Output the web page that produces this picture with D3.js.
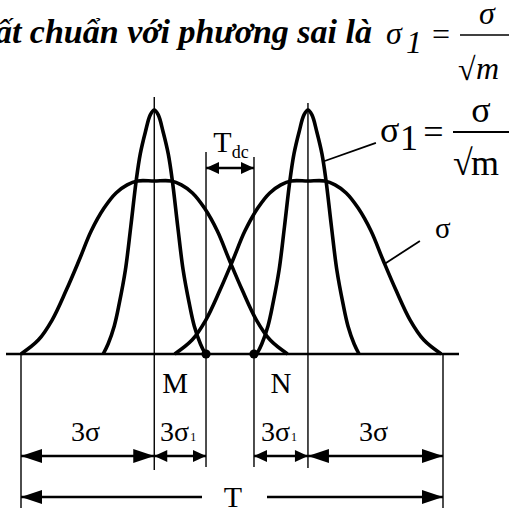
<!DOCTYPE html>
<html><head><meta charset="utf-8">
<script src="https://cdn.jsdelivr.net/npm/d3@7"></script>
<style>html,body{margin:0;padding:0;background:#fff;overflow:hidden}</style>
</head><body>
<script>
// ---------------- data ----------------
// Profiles of the two distributions:
// offset from the mean (in σ units) and relative height (peak of narrow curve = 1)
const wideOffsets   = [0, 0.38, 0.61, 0.86, 1.13, 1.42, 1.69, 1.98, 2.30, 2.61, 3.0];
const wideHeights   = [0.709, 0.709, 0.693, 0.660, 0.598, 0.504, 0.385, 0.262, 0.139, 0.057, 0];
const narrowOffsets = [0, 0.09, 0.20, 0.315, 0.405, 0.53, 0.65, 0.79, 0.90, 1.04, 1.15];
const narrowHeights = [1, 0.98, 0.91, 0.82, 0.713, 0.52, 0.344, 0.205, 0.115, 0.041, 0];
const means = [0, 3.46];                 // centres of the two setups
const pointX = [1.165, 2.245];           // M and N
const pointLabels = ["M", "N"];
const spanStart = [-3, 0, 2.245, 3.46];
const spanEnd   = [0, 1.165, 3.46, 6.5];
const spanMain  = ["3σ", "3σ", "3σ", "3σ"];
const spanSub   = ["", "1", "1", ""];
const totalLabel = "T";
const gapLabel = "T", gapSub = "dc";
const titleText = "ất chuẩn với phương sai là";

// ---------------- layout ----------------
const W = 509, H = 508;
const SERIF = "'Liberation Serif','Times New Roman',serif";
const svg = d3.select("body").append("svg").attr("width", W).attr("height", H)
  .attr("font-family", SERIF);
svg.append("rect").attr("width", W).attr("height", H).attr("fill", "#fff");

const x = d3.scaleLinear().domain([-3, 6.5]).range([21, 443]);
const y = d3.scaleLinear().domain([0, 1]).range([354, 110]);
const base = y(0);

function profile(mean, offs, hs) {
  const pts = [];
  for (let i = offs.length - 1; i > 0; i--) pts.push([mean - offs[i], hs[i]]);
  for (let i = 0; i < offs.length; i++) pts.push([mean + offs[i], hs[i]]);
  return pts;
}
const line = d3.line().x(d => x(d[0])).y(d => y(d[1])).curve(d3.curveCatmullRom.alpha(0.5));

// guide lines
const guides = [
  {v: -3, top: base, bot: 508},
  {v: means[0], top: 97, bot: 470},
  {v: pointX[0], top: 152, bot: 467},
  {v: pointX[1], top: 157, bot: 467},
  {v: means[1], top: 103, bot: 468},
  {v: 6.5, top: base, bot: 508}
];
svg.append("g").selectAll("line").data(guides).join("line")
  .attr("x1", d => x(d.v)).attr("x2", d => x(d.v))
  .attr("y1", d => d.top).attr("y2", d => d.bot)
  .attr("stroke", "#000").attr("stroke-width", 1.4);

// base line
svg.append("line").attr("x1", 6).attr("x2", 459).attr("y1", base).attr("y2", base)
  .attr("stroke", "#000").attr("stroke-width", 2.6);

// curves
const curves = [];
means.forEach(m => {
  curves.push(profile(m, wideOffsets, wideHeights));
  curves.push(profile(m, narrowOffsets, narrowHeights));
});
svg.append("g").selectAll("path").data(curves).join("path")
  .attr("d", line).attr("fill", "none").attr("stroke", "#000")
  .attr("stroke-width", 3.6).attr("stroke-linejoin", "miter");

// points M, N
svg.append("g").selectAll("circle").data(pointX).join("circle")
  .attr("cx", d => x(d)).attr("cy", base).attr("r", 4.6).attr("fill", "#000");

function head(g, tip, yy, dir, L, w) {
  g.append("path").attr("d", `M${tip},${yy}L${tip - dir * L},${yy - w}L${tip - dir * L},${yy + w}Z`).attr("fill", "#000");
}
const dim = svg.append("g");
function dimLine(x1, x2, yy, L, w, headL, headR) {
  dim.append("line").attr("x1", x1).attr("x2", x2).attr("y1", yy).attr("y2", yy)
    .attr("stroke", "#000").attr("stroke-width", 2.6);
  if (headL) head(dim, x1, yy, -1, L, w);
  if (headR) head(dim, x2, yy, 1, L, w);
}

// span arrows
spanStart.forEach((s, i) => {
  const big = spanSub[i] === "";
  dimLine(x(s), x(spanEnd[i]), 456, big ? 21 : 13, big ? 7 : 6, true, true);
  const t = svg.append("text").attr("x", (x(s) + x(spanEnd[i])) / 2 - 2).attr("y", 441)
    .attr("text-anchor", "middle").attr("font-size", 28).text(spanMain[i]);
  if (spanSub[i]) t.append("tspan").attr("font-size", 12).attr("dx", 1).text(spanSub[i]);
});

// total T
dimLine(x(-3), 202, 497, 21, 7, true, false);
dimLine(267, x(6.5), 497, 21, 7, false, true);
svg.append("text").attr("x", (x(-3) + x(6.5)) / 2 + 1).attr("y", 507)
  .attr("text-anchor", "middle").attr("font-size", 30).text(totalLabel);

// T_dc
dimLine(x(pointX[0]), x(pointX[1]), 168, 13, 6, true, true);
const gt = svg.append("text").attr("x", (x(pointX[0]) + x(pointX[1])) / 2 + 1).attr("y", 152)
  .attr("text-anchor", "middle").attr("font-size", 30).text(gapLabel);
gt.append("tspan").attr("font-size", 18).attr("dy", 6).text(gapSub);

// M, N labels
svg.append("g").selectAll("text").data(pointLabels).join("text")
  .attr("x", (d, i) => i === 0 ? (x(means[0]) + x(pointX[0])) / 2 - 5 : (x(pointX[1]) + x(means[1])) / 2)
  .attr("y", 393).attr("text-anchor", "middle").attr("font-size", 29).text(d => d);

// leader lines
const leaders = [
  {x1: means[1] + 0.36, h1: 0.79, x2: 4.99, h2: 0.865},
  {x1: means[1] + 1.73, h1: 0.37, x2: 5.98, h2: 0.463}
];
svg.append("g").selectAll("line").data(leaders).join("line")
  .attr("x1", d => x(d.x1)).attr("y1", d => y(d.h1))
  .attr("x2", d => x(d.x2)).attr("y2", d => y(d.h2))
  .attr("stroke", "#000").attr("stroke-width", 1.8);

// σ label
svg.append("text").attr("x", 435).attr("y", 238).attr("font-size", 29).text("σ");

// σ1 = σ/√m (diagram)
const f = svg.append("g").attr("font-size", 36);
f.append("text").attr("x", 380).attr("y", 142).text("σ");
f.append("text").attr("x", 400).attr("y", 150).text("1");
f.append("text").attr("x", 433.5).attr("y", 144).attr("text-anchor", "middle").text("=");
f.append("line").attr("x1", 453).attr("x2", 512).attr("y1", 132).attr("y2", 132).attr("stroke", "#000").attr("stroke-width", 1.8);
f.append("text").attr("x", 481).attr("y", 122).attr("text-anchor", "middle").text("σ");
f.append("text").attr("x", 453).attr("y", 175).text("√");
f.append("text").attr("x", 471).attr("y", 175).text("m");

// title
svg.append("text").attr("x", 372).attr("y", 43).attr("text-anchor", "end")
  .attr("font-family", "Liberation Serif")
  .attr("font-size", 34).attr("font-weight", "bold").attr("font-style", "italic").text(titleText);
const tf = svg.append("g").attr("font-size", 32).attr("font-style", "italic").attr("font-family", "Liberation Serif");
tf.append("text").attr("x", 386).attr("y", 44).text("σ");
tf.append("text").attr("x", 406).attr("y", 53).text("1");
tf.append("text").attr("x", 441).attr("y", 45).attr("font-style", "normal").attr("text-anchor", "middle").text("=");
tf.append("line").attr("x1", 460).attr("x2", 512).attr("y1", 35).attr("y2", 35).attr("stroke", "#000").attr("stroke-width", 1.6);
tf.append("text").attr("x", 487).attr("y", 24).attr("text-anchor", "middle").text("σ");
tf.append("text").attr("x", 458).attr("y", 80).attr("font-style", "normal").text("√");
tf.append("text").attr("x", 476).attr("y", 79).text("m");
</script>
</body></html>
